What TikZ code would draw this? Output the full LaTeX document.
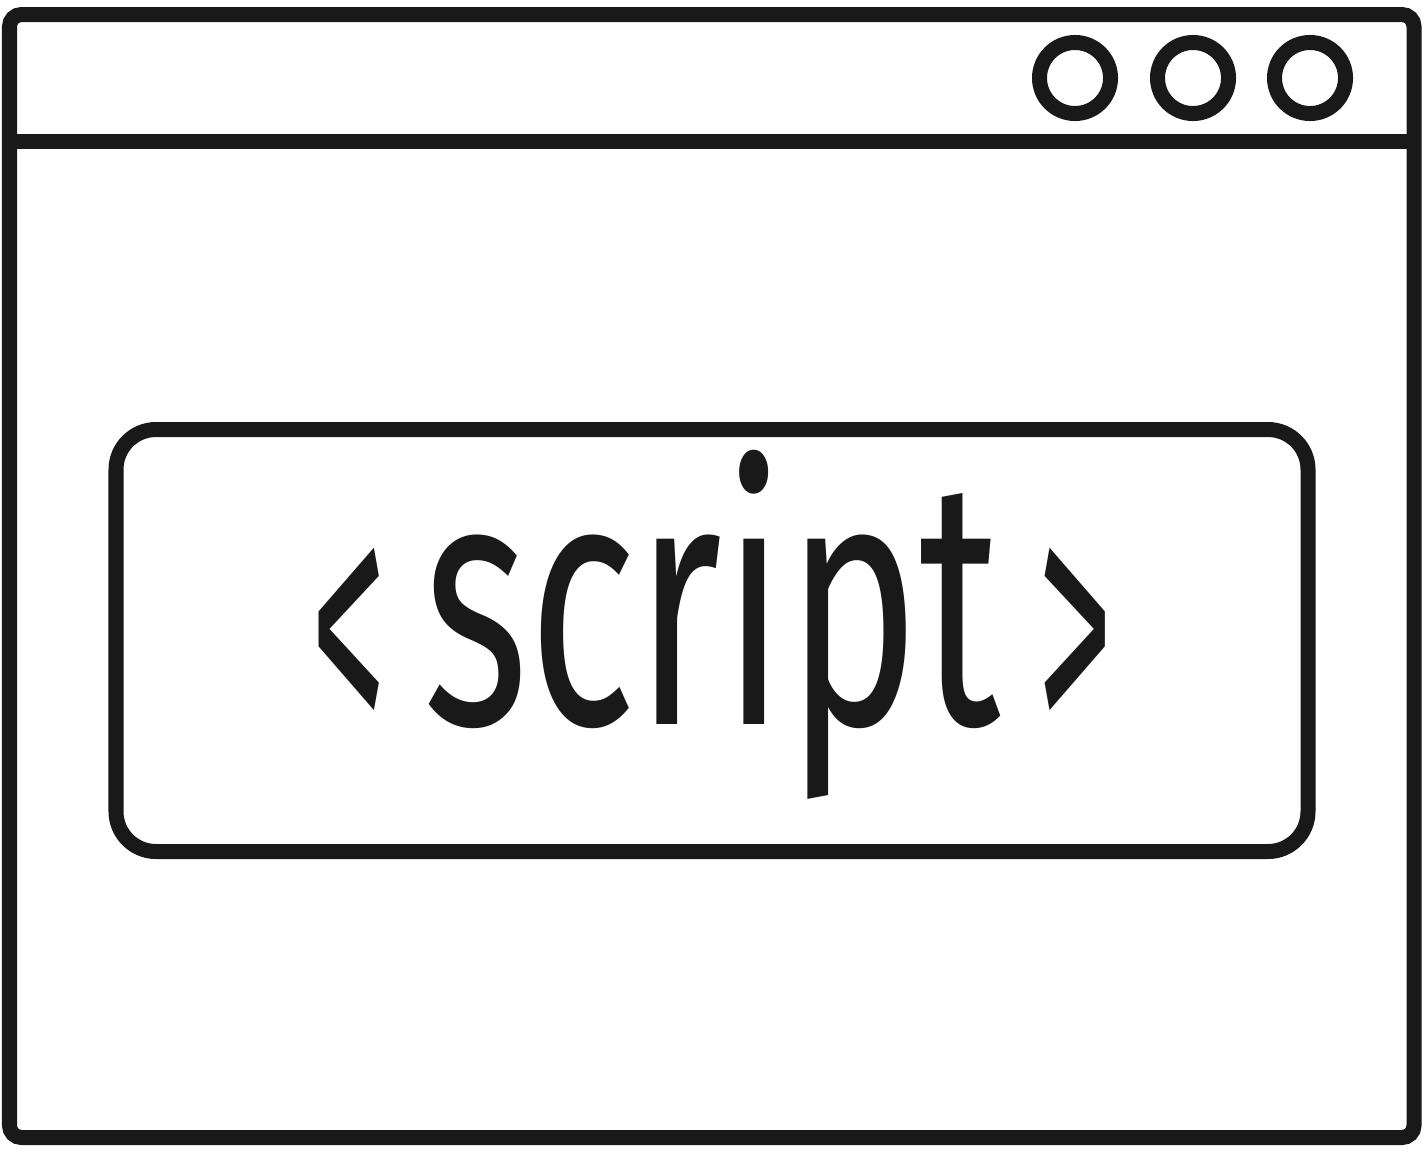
\documentclass[tikz,border=0pt]{standalone}
\usepackage{fontspec}
\setmainfont{Fira Sans}
\usetikzlibrary{positioning}

\newcommand{\angl}[1]{\raisebox{-0.29cm}{\scalebox{0.67}[1.06]{#1}}}

\begin{document}
\begin{tikzpicture}[x=0.01cm, y=-0.01cm,
	outline/.style={draw=black!90, line width=0.15cm},
	dot/.style={outline, circle, minimum size=0.71cm, inner sep=0pt}]
	\useasboundingbox (0,0) rectangle (1428,1160);
	% window
	\draw [outline, rounded corners=0.12cm] (9.5,14.5) rectangle (1414,1137.5);
	\draw [outline] (9.5,141.5) -- (1414,141.5);
	\foreach \cx/\nm in {1075/one, 1193/two, 1310/three}
		\node [dot] (\nm) at (\cx,78) {};
	% tag box
	\draw [outline, rounded corners=0.4cm] (116,429.5) rectangle (1308,851.5);
	\node [anchor=base, xscale=0.64, transform shape, text=black!90,
		font=\fontsize{100}{100}\selectfont] (tag) at (712,724)
		{\angl{<}\hspace{0.57cm}script\hspace{0.57cm}\angl{>}};
\end{tikzpicture}
\end{document}
